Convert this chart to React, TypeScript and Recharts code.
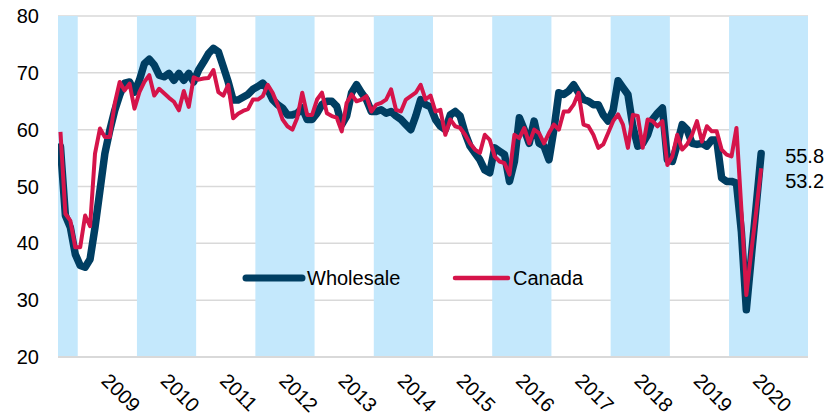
import React from 'react';
import { LineChart, Line, XAxis, YAxis, CartesianGrid, ReferenceArea, Legend } from 'recharts';

// Monthly series, first month = Sep 2008
const START_YEAR = 2008;
const START_MONTH = 9;

const wholesale = [
  57.0, 44.9, 42.8, 38.1, 36.1, 35.8, 37.2, 42.8, 49.3, 55.8, 59.9, 63.4,
  66.1, 68.2, 68.4, 66.6, 68.7, 71.6, 72.4, 71.4, 69.6, 69.3, 69.9, 68.7,
  69.9, 68.7, 69.9, 68.4, 70.5, 71.9, 73.4, 74.3, 73.7, 71.1, 68.4, 65.2,
  65.2, 65.7, 66.2, 67.1, 67.6, 68.2, 67.1, 65.3, 64.4, 63.8, 62.6, 62.6,
  62.9, 63.8, 61.8, 61.8, 62.9, 64.4, 65.0, 65.0, 64.1, 60.9, 62.4, 66.5,
  67.9, 66.5, 65.3, 63.2, 63.2, 63.5, 62.9, 63.2, 62.4, 61.8, 60.9, 60.0,
  62.4, 65.3, 64.4, 64.0, 61.8, 60.6, 60.0, 62.6, 63.2, 62.4, 59.4, 57.1,
  55.9, 54.7, 52.9, 52.4, 56.8, 56.2, 55.6, 50.9, 54.4, 62.1, 60.0, 57.6,
  61.5, 57.6, 57.1, 54.7, 60.0, 66.5, 66.2, 66.8, 67.9, 66.5, 65.3, 65.0,
  64.4, 64.4, 62.6, 61.5, 63.4, 68.6, 67.4, 66.2, 60.6, 57.1, 57.6, 59.1,
  61.8, 62.9, 63.8, 54.7, 54.4, 57.4, 60.9, 60.0, 57.6, 57.4, 57.6, 57.1,
  58.2, 58.2, 51.5, 50.9, 50.9, 50.6, 42.0, 28.3, 37.5, 46.6, 55.8,
];

const canada = [
  59.6, 45.2, 44.0, 39.3, 39.3, 44.9, 43.0, 55.8, 60.2, 58.7, 58.7, 64.6,
  68.4, 66.9, 68.1, 63.7, 66.6, 68.4, 69.6, 66.0, 67.2, 66.4, 65.6, 64.9,
  63.4, 66.8, 64.0, 69.2, 68.8, 69.0, 69.1, 70.5, 66.6, 66.0, 67.9, 62.0,
  62.8, 63.3, 63.6, 65.3, 65.3, 65.9, 67.9, 66.5, 64.4, 61.8, 60.6, 60.0,
  62.1, 66.5, 62.6, 62.6, 65.3, 66.5, 62.9, 62.4, 62.1, 59.7, 64.7, 66.2,
  65.0, 65.3, 65.9, 63.2, 64.4, 64.7, 65.3, 67.1, 63.5, 63.2, 65.3, 65.9,
  66.5, 67.9, 65.3, 66.0, 63.2, 63.5, 59.1, 61.8, 60.6, 60.3, 59.1, 57.6,
  56.5, 55.9, 59.1, 58.2, 55.3, 54.4, 54.1, 52.1, 59.1, 58.5, 60.3, 57.6,
  60.0, 59.4, 57.6, 59.4, 60.9, 60.0, 63.2, 63.2, 64.4, 66.5, 60.9, 60.6,
  59.1, 56.8, 57.4, 59.4, 61.5, 62.7, 60.9, 56.8, 62.6, 62.4, 56.8, 61.8,
  61.5, 60.6, 61.5, 53.8, 55.3, 59.1, 56.5, 57.4, 59.1, 61.5, 57.9, 60.6,
  59.7, 59.7, 56.5, 55.6, 55.3, 60.3, 46.0, 30.9, 38.5, 45.6, 53.2,
];

const yTicks = [20, 30, 40, 50, 60, 70, 80];
const yearLabels = ['2009', '2010', '2011', '2012', '2013', '2014', '2015', '2016', '2017', '2018', '2019', '2020'];
const shadedYears = [2008, 2010, 2012, 2014, 2016, 2018, 2020];
const AXIS_MONTHS = 152; // category span of the axis (Sep 2008 .. Apr 2021)

const NAVY = '#003E62';
const RED = '#D5144A';
const BAND = '#C4E8FC';
const GRID = '#D9D9D9';
const FONT = '"Liberation Sans", Arial, sans-serif';

const monthIndex = (year: number, month: number) => (year - START_YEAR) * 12 + (month - START_MONTH);

const data = wholesale.map((w, i) => ({ t: i + 0.5, w, c: canada[i] }));
const LAST = wholesale.length - 1;

const yearTicks = yearLabels.map((y) => monthIndex(Number(y), 1) + 6);

const YearTick = (props: any) => {
  const { x, y, payload } = props;
  const label = String(START_YEAR + 1 + yearTicks.indexOf(payload.value));
  const ax = x - 7;
  const ay = y + 25;
  return (
    <text x={ax} y={ay} transform={`rotate(45, ${ax}, ${ay})`} textAnchor="start" fontSize={20} fontFamily={FONT} fill="#000">
      {label}
    </text>
  );
};

const makeEndLabel = (dy: number) => (props: any) => {
  const { x, y, index, value } = props;
  if (index !== LAST) return null;
  return (
    <text x={x + 24} y={y + dy} dy="0.35em" textAnchor="start" fontSize={20} fontFamily={FONT} fill="#000">
      {Number(value).toFixed(1)}
    </text>
  );
};

const LegendContent = () => (
  <svg width={380} height={32} style={{ overflow: 'visible' }}>
    <line x1={6} y1={16} x2={62} y2={16} stroke={NAVY} strokeWidth={7} strokeLinecap="round" />
    <text x={67} y={16} dy="0.35em" fontSize={20} fontFamily={FONT} fill="#000">Wholesale</text>
    <line x1={215} y1={16} x2={268} y2={16} stroke={RED} strokeWidth={4.5} strokeLinecap="round" />
    <text x={273} y={16} dy="0.35em" fontSize={20} fontFamily={FONT} fill="#000">Canada</text>
  </svg>
);

export default function App() {
  return (
    <div style={{ position: 'fixed', left: 0, top: 0, width: 825, height: 417, background: '#fff' }}>
      <LineChart width={825} height={417} data={data} margin={{ top: 16, right: 17, left: 0, bottom: 0 }}>
        <CartesianGrid vertical={false} stroke={GRID} strokeWidth={1.5} />
        {shadedYears.map((yr) => {
          const x1 = Math.max(0, monthIndex(yr, 1));
          const x2 = Math.min(AXIS_MONTHS, yr === 2020 ? AXIS_MONTHS : monthIndex(yr + 1, 1));
          return <ReferenceArea key={yr} x1={x1} x2={x2} y1={20} y2={80} fill={BAND} fillOpacity={1} stroke="none" ifOverflow="hidden" />;
        })}
        <XAxis
          dataKey="t"
          type="number"
          domain={[0, AXIS_MONTHS]}
          ticks={yearTicks}
          interval={0}
          tick={<YearTick />}
          tickLine={false}
          tickSize={0}
          tickMargin={0}
          height={60}
          axisLine={{ stroke: GRID, strokeWidth: 2 }}
          allowDataOverflow
        />
        <YAxis
          domain={[20, 80]}
          ticks={yTicks}
          width={58}
          axisLine={false}
          tickLine={false}
          tickSize={0}
          tickMargin={19}
          tick={{ fontSize: 20, fontFamily: FONT, fill: '#000' }}
        />
        <Line
          dataKey="w"
          name="Wholesale"
          type="linear"
          stroke={NAVY}
          strokeWidth={7.5}
          strokeLinejoin="round"
          strokeLinecap="round"
          dot={false}
          isAnimationActive={false}
          label={makeEndLabel(2)}
        />
        <Line
          dataKey="c"
          name="Canada"
          type="linear"
          stroke={RED}
          strokeWidth={4}
          strokeLinejoin="round"
          dot={false}
          isAnimationActive={false}
          label={makeEndLabel(13)}
        />
        <Legend
          layout="horizontal"
          verticalAlign="middle"
          align="center"
          content={<LegendContent />}
          wrapperStyle={{ position: 'absolute', left: 240, top: 262, width: 380, height: 32 }}
        />
      </LineChart>
    </div>
  );
}
